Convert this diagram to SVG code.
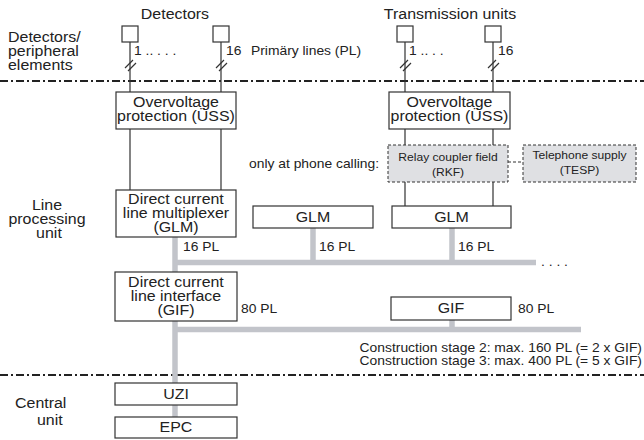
<svg xmlns="http://www.w3.org/2000/svg" width="644" height="440" viewBox="0 0 644 440">
  <style>
    text { font-family: "Liberation Sans", Arial, sans-serif; fill: #222; transform-box: fill-box; }
    .big { font-size: 14.5px; }
    .lbl { font-size: 12.6px; }
    .tiny { font-size: 11px; }
    .s { text-anchor: start; transform-origin: left center; transform: scaleX(1.1); }
    .m { text-anchor: middle; transform-origin: center; transform: scaleX(1.1); }
    .e { text-anchor: end; transform-origin: right center; transform: scaleX(1.1); }
    .box { fill: #fff; stroke: #333; stroke-width: 1.2; }
    .opt { fill: #dfe0e3; stroke: #333; stroke-width: 1; stroke-dasharray: 3 2; }
    .wire { stroke: #333; stroke-width: 1.2; fill: none; }
    .dashwire { stroke: #333; stroke-width: 1; stroke-dasharray: 3 2; fill: none; }
    .bus { stroke: #c2c4ca; stroke-width: 5.5; fill: none; }
    .sep { stroke: #222; stroke-width: 2; stroke-dasharray: 8 3 2 3; fill: none; }
  </style>

  <!-- zone separators and zone titles -->
  <g id="zones">
    <line class="sep" x1="0" y1="81" x2="644" y2="81"/>
    <line class="sep" x1="0" y1="375" x2="644" y2="375"/>
    <text class="big s" x="8" y="42">Detectors/</text>
    <text class="big s" x="8" y="56">peripheral</text>
    <text class="big s" x="8" y="70">elements</text>
    <text class="big m" x="47" y="210">Line</text>
    <text class="big m" x="47" y="224">processing</text>
    <text class="big m" x="49" y="238">unit</text>
    <text class="big s" x="15" y="408">Central</text>
    <text class="big s" x="37" y="425">unit</text>
  </g>

  <!-- connectors: primary lines and data buses -->
  <g id="connectors">
    <g id="bus">
      <path class="bus" d="M175 237 V417"/>
      <path class="bus" d="M175 262.5 H536"/>
      <path class="bus" d="M313 228 V262.5"/>
      <path class="bus" d="M452 228 V262.5"/>
      <path class="bus" d="M175 329.5 H581"/>
      <path class="bus" d="M452 320 V329.5"/>
    </g>
    <!-- detector lines -->
    <path class="wire" d="M130 42 V92 M221 42 V92"/>
    <path class="wire" d="M405 42 V92 M493 42 V92"/>
    <!-- bundle marks -->
    <path class="wire" d="M125 68 L133 60 M128 71 L136 63"/>
    <path class="wire" d="M216 68 L224 60 M219 71 L227 63"/>
    <path class="wire" d="M400 68 L408 60 M403 71 L411 63"/>
    <path class="wire" d="M488 68 L496 60 M491 71 L499 63"/>
    <!-- protection to multiplexer -->
    <path class="wire" d="M130 129 V190 M221 129 V190"/>
    <path class="wire" d="M405 129 V145 M493 129 V145"/>
    <path class="wire" d="M405 182 V206 M493 182 V206"/>
    <path class="dashwire" d="M508 162 H523"/>
  </g>

  <!-- field devices -->
  <g id="detectors">
    <text class="big m" x="175" y="19">Detectors</text>
    <rect class="box" x="122" y="26" width="16" height="16"/>
    <rect class="box" x="213" y="26" width="16" height="16"/>
    <text class="lbl s" x="134" y="55">1 .. . . .</text>
    <text class="lbl s" x="226" y="55">16</text>
    <text class="lbl s" x="251" y="55">Primäry lines (PL)</text>
  </g>
  <g id="transmission-units">
    <text class="big m" x="450" y="19">Transmission units</text>
    <rect class="box" x="397" y="26" width="16" height="16"/>
    <rect class="box" x="485" y="26" width="16" height="16"/>
    <text class="lbl s" x="409" y="55">1 .. . .</text>
    <text class="lbl s" x="498" y="55">16</text>
  </g>

  <!-- line processing -->
  <g id="uss-left">
    <rect class="box" x="116" y="92" width="120" height="37"/>
    <text class="big m" x="176" y="107">Overvoltage</text>
    <text class="big m" x="176" y="121">protection (ÜSS)</text>
  </g>
  <g id="uss-right">
    <rect class="box" x="389" y="92" width="121" height="37"/>
    <text class="big m" x="449.5" y="107">Overvoltage</text>
    <text class="big m" x="449.5" y="121">protection (ÜSS)</text>
  </g>
  <g id="phone-note">
    <text class="lbl s" x="249" y="168">only at phone calling:</text>
  </g>
  <g id="rkf">
    <rect class="opt" x="388" y="145" width="120" height="37"/>
    <text class="tiny m" x="448" y="161">Relay coupler field</text>
    <text class="tiny m" x="448" y="176">(RKF)</text>
  </g>
  <g id="tesp">
    <rect class="opt" x="523" y="145" width="113" height="37"/>
    <text class="tiny m" x="579.5" y="159">Telephone supply</text>
    <text class="tiny m" x="579.5" y="174">(TESP)</text>
  </g>
  <g id="glm-1">
    <rect class="box" x="116" y="190" width="120" height="47"/>
    <text class="big m" x="176" y="204">Direct current</text>
    <text class="big m" x="176" y="218">line multiplexer</text>
    <text class="big m" x="176" y="232">(GLM)</text>
    <text class="lbl s" x="183" y="251">16 PL</text>
  </g>
  <g id="glm-2">
    <rect class="box" x="253" y="206" width="120" height="22"/>
    <text class="big m" x="313" y="222">GLM</text>
    <text class="lbl s" x="319" y="251">16 PL</text>
  </g>
  <g id="glm-3">
    <rect class="box" x="392" y="206" width="119" height="22"/>
    <text class="big m" x="451.5" y="222">GLM</text>
    <text class="lbl s" x="458" y="251">16 PL</text>
  </g>
  <g id="more">
    <text class="lbl s" x="541" y="266">. . . .</text>
  </g>
  <g id="gif-1">
    <rect class="box" x="115" y="272" width="122" height="49"/>
    <text class="big m" x="176" y="287">Direct current</text>
    <text class="big m" x="176" y="301">line interface</text>
    <text class="big m" x="176" y="315">(GIF)</text>
    <text class="lbl s" x="241" y="313">80 PL</text>
  </g>
  <g id="gif-2">
    <rect class="box" x="391" y="297" width="120" height="23"/>
    <text class="big m" x="451" y="313">GIF</text>
    <text class="lbl s" x="518" y="313">80 PL</text>
  </g>
  <g id="stages">
    <text class="lbl e" x="642" y="352">Construction stage 2: max. 160 PL (= 2 x GIF)</text>
    <text class="lbl e" x="642" y="365">Construction stage 3: max. 400 PL (= 5 x GIF)</text>
  </g>

  <!-- central unit -->
  <g id="uzi">
    <rect class="box" x="115" y="383" width="122" height="22"/>
    <text class="big m" x="176" y="399">UZI</text>
  </g>
  <g id="epc">
    <rect class="box" x="115" y="417" width="122" height="21"/>
    <text class="big m" x="176" y="432">EPC</text>
  </g>
</svg>
